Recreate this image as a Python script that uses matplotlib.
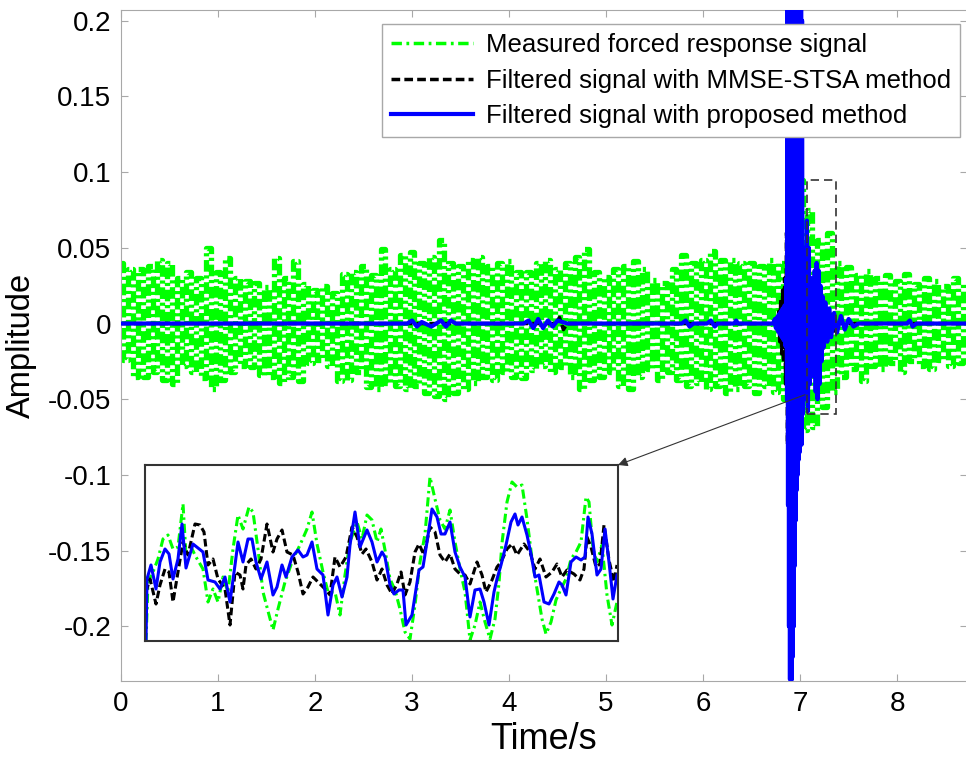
import numpy as np
import matplotlib
matplotlib.use('Agg')
import matplotlib.pyplot as plt
from matplotlib.patches import Rectangle

plt.rcParams['font.family'] = ['Liberation Sans', 'DejaVu Sans']

green_upper = [0.040, 0.036, 0.036, 0.038, 0.042, 0.040, 0.030, 0.034, 0.030, 0.050,
               0.034, 0.043, 0.030, 0.028, 0.027, 0.024, 0.043, 0.030, 0.041, 0.026,
               0.022, 0.025, 0.020, 0.033, 0.034, 0.038, 0.032, 0.049, 0.036, 0.045,
               0.047, 0.040, 0.044, 0.055, 0.040, 0.038, 0.042, 0.044, 0.038, 0.040,
               0.041, 0.034, 0.034, 0.040, 0.042, 0.036, 0.040, 0.044, 0.049, 0.034,
               0.031, 0.036, 0.038, 0.041, 0.036, 0.029, 0.027, 0.036, 0.045, 0.040,
               0.042, 0.048, 0.042, 0.042, 0.040, 0.040, 0.038, 0.042, 0.040, 0.060,
               0.095, 0.075, 0.055, 0.060, 0.040, 0.037, 0.032, 0.035, 0.030, 0.032,
               0.028, 0.033, 0.026, 0.030, 0.028, 0.025, 0.030, 0.027]
green_lower = [-0.024, -0.035, -0.035, -0.032, -0.037, -0.040, -0.028, -0.032, -0.036, -0.043,
               -0.037, -0.032, -0.028, -0.029, -0.034, -0.035, -0.039, -0.035, -0.038, -0.026,
               -0.024, -0.028, -0.038, -0.037, -0.032, -0.042, -0.043, -0.039, -0.041, -0.043,
               -0.041, -0.046, -0.048, -0.050, -0.046, -0.043, -0.039, -0.035, -0.037, -0.032,
               -0.035, -0.036, -0.031, -0.028, -0.032, -0.029, -0.035, -0.043, -0.037, -0.035,
               -0.032, -0.041, -0.043, -0.035, -0.030, -0.037, -0.032, -0.037, -0.041, -0.039,
               -0.043, -0.041, -0.046, -0.043, -0.041, -0.046, -0.041, -0.045, -0.050, -0.060,
               -0.070, -0.068, -0.055, -0.045, -0.035, -0.030, -0.038, -0.028, -0.030, -0.026,
               -0.032, -0.025, -0.028, -0.030, -0.024, -0.028, -0.026]

# 本文方法滤波结果 (蓝)
blue_t = [0.0, 2.95, 3.0, 3.05, 3.1, 3.2, 3.3, 3.35, 3.4, 3.45,
          4.15, 4.2, 4.25, 4.3, 4.35, 4.4, 4.45, 4.5, 4.6,
          5.78, 5.82, 5.86, 5.9, 6.04, 6.08, 6.12, 6.15, 6.32, 6.34, 6.36,
          6.72, 6.74, 6.75, 6.76, 6.77, 6.78, 6.79, 6.80, 6.81, 6.82, 6.83, 6.84, 6.85, 6.86,
          6.865, 6.87, 6.875, 6.88, 6.885, 6.89, 6.895, 6.90, 6.905, 6.91, 6.915, 6.92,
          6.925, 6.93, 6.935, 6.94, 6.945, 6.95, 6.955, 6.96, 6.965, 6.97, 6.975, 6.98,
          6.985, 6.99, 6.995, 7.00, 7.005, 7.01, 7.015, 7.02, 7.025, 7.03, 7.04, 7.05, 7.06,
          7.07, 7.08, 7.09, 7.10, 7.11, 7.12, 7.13, 7.14, 7.15, 7.16, 7.17, 7.18, 7.19,
          7.20, 7.21, 7.22, 7.23, 7.24, 7.26, 7.28, 7.30, 7.32, 7.35, 7.38, 7.42, 7.46,
          7.50, 7.55, 7.60, 8.10, 8.13, 8.16, 8.20, 8.72]
blue_v = [0.0, 0.0, 0.002, -0.002, 0.001, -0.002, 0.002, -0.002, 0.002, 0.0,
          0.0, 0.002, -0.003, 0.003, -0.003, 0.002, -0.002, 0.002, 0.0,
          0.0, 0.002, -0.002, 0.0, 0.0, 0.002, -0.002, 0.0, 0.0, 0.002, 0.0,
          0.0, 0.003, -0.003, 0.004, -0.005, 0.006, -0.007, 0.008, -0.009, 0.010, -0.011, 0.012, -0.015, 0.030,
          -0.050, 0.25, -0.12, 0.25, -0.20, 0.25, -0.235, 0.25, -0.235, 0.25, -0.235, 0.25,
          -0.22, 0.25, -0.20, 0.25, -0.16, 0.25, -0.13, 0.25, -0.11, 0.25, -0.10, 0.25,
          -0.09, 0.25, -0.085, 0.25, -0.08, 0.25, -0.08, 0.20, -0.06, 0.05, -0.04, 0.05, -0.05,
          0.068, -0.058, 0.05, -0.04, 0.03, -0.03, 0.028, -0.035, 0.035, -0.045, 0.04, -0.05, 0.035,
          -0.04, 0.025, -0.025, 0.018, -0.016, 0.014, -0.012, 0.010, -0.009, 0.007, -0.006, 0.005, -0.004,
          0.003, -0.002, 0.0, 0.0, 0.002, -0.002, 0.0, 0.0]

# MMSE-STSA 滤波结果 (黑)
black_t = [0.0, 4.48, 4.52, 4.56, 4.60, 6.77, 6.78, 6.79, 6.80, 6.81, 6.82, 6.83, 6.84,
           6.85, 6.86, 6.87, 6.88, 6.90, 6.92, 6.94, 6.96, 6.98, 6.99, 7.00, 7.02, 7.04,
           7.06, 7.08, 7.10, 7.12, 7.14, 7.16, 7.18, 7.20, 7.22, 7.25, 7.30, 7.35, 7.40, 8.72]
black_v = [0.0, 0.0, 0.004, -0.004, 0.0, 0.0, 0.008, -0.012, 0.016, -0.020, 0.022, -0.026, 0.030,
           -0.040, 0.060, -0.080, 0.100, -0.100, 0.100, -0.090, 0.090, -0.080, 0.088, -0.060, 0.050, -0.040,
           0.040, -0.035, 0.030, -0.030, 0.030, -0.032, 0.032, -0.025, 0.020, -0.012, 0.008, -0.005, 0.0, 0.0]

# 局部放大窗口中的三条曲线 (样本序号, 幅值)
ins_green_n = [1, 3, 8, 13, 18, 23, 28, 33, 38, 41, 46, 51, 58, 63, 68, 73, 78, 83, 88, 93,
               98, 104, 108, 113, 118, 128, 133, 140, 148, 155, 162, 167, 172, 178, 183, 190, 195, 200, 205, 212,
               217, 222, 227, 232, 236, 240, 245, 250, 255, 260, 265, 270, 275, 280, 285, 290, 295, 300, 305, 310,
               315, 320, 325, 330, 335, 340, 345, 350, 354, 357, 362, 367, 372, 377, 382, 387, 392, 397, 401, 406,
               411, 416, 421, 426, 431, 436, 441, 444, 448, 452, 457, 462, 467, 472]
ins_green_v = [-0.089, -0.029, -0.019, -0.006, 0.014, 0.018, 0.004, 0.006, 0.049, -0.002,
               0.006, -0.004, -0.016, -0.049, -0.036, -0.049, -0.024, -0.039, 0.004, 0.038,
               0.024, 0.046, 0.041, 0.004, -0.039, -0.077, -0.056, -0.029, -0.006, 0.008,
               0.024, 0.041, 0.009, -0.019, -0.039, -0.039, -0.062, -0.022, 0.011, 0.031,
               0.014, 0.038, 0.033, 0.011, 0.024, 0.003, -0.026, -0.037, -0.056, -0.079,
               -0.086, -0.052, -0.009, 0.019, 0.076, 0.054, 0.033, 0.024, 0.043, 0.011,
               -0.016, -0.039, -0.087, -0.072, -0.049, -0.069, -0.086, -0.066, -0.030, 0.010,
               0.051, 0.071, 0.066, 0.068, 0.034, -0.006, -0.036, -0.066, -0.081, -0.069,
               -0.047, -0.036, -0.026, -0.006, 0.001, 0.011, 0.056, 0.051, 0.004, -0.009,
               0.008, -0.042, -0.072, -0.049]
ins_black_n = [1, 5, 11, 15, 20, 24, 28, 33, 38, 43, 50, 55, 59, 63, 68, 73, 80, 85, 90, 95,
               98, 101, 106, 111, 116, 122, 128, 132, 137, 142, 148, 153, 158, 163, 168, 173, 180, 185, 190, 195,
               201, 207, 212, 217, 221, 227, 232, 237, 242, 247, 252, 256, 260, 265, 270, 274, 279, 285, 290, 295,
               300, 305, 310, 315, 320, 325, 332, 337, 341, 347, 352, 356, 362, 367, 372, 379, 385, 390, 395, 401,
               407, 412, 417, 422, 429, 435, 439, 442, 446, 451, 455, 459, 464, 469, 472]
ins_black_v = [-0.039, -0.026, -0.051, -0.032, -0.016, -0.019, -0.049, -0.019, 0.011, -0.002,
               0.029, 0.028, 0.021, -0.012, -0.006, -0.026, -0.036, -0.072, -0.019, -0.022,
               -0.036, -0.012, -0.006, -0.016, -0.006, 0.029, 0.001, 0.014, 0.023, 0.001,
               -0.002, -0.019, -0.041, -0.034, -0.024, -0.029, -0.036, -0.042, -0.004, -0.014,
               -0.004, 0.026, 0.016, -0.001, 0.004, -0.009, -0.027, -0.016, -0.032, -0.041,
               -0.031, -0.019, -0.042, -0.029, 0.001, 0.009, -0.002, 0.026, 0.021, -0.002,
               -0.009, -0.001, -0.016, -0.021, -0.022, -0.031, -0.009, -0.022, -0.039, -0.027,
               -0.014, -0.009, 0.004, 0.009, -0.002, 0.009, 0.001, -0.016, -0.006, -0.024,
               -0.019, -0.011, -0.024, -0.017, -0.021, -0.027, -0.016, 0.016, 0.006, -0.014,
               -0.011, 0.028, -0.007, -0.029, -0.012]
ins_blue_n = [1, 2, 6, 11, 15, 20, 24, 28, 33, 37, 41, 48, 58, 63, 70, 75, 80, 85, 90, 93,
              98, 103, 107, 111, 116, 122, 128, 132, 137, 141, 147, 153, 158, 162, 167, 172, 178, 183, 188, 192,
              197, 202, 205, 210, 215, 222, 227, 232, 237, 240, 245, 249, 254, 258, 261, 267, 274, 278, 282, 287,
              292, 296, 300, 305, 310, 315, 320, 325, 330, 335, 339, 344, 349, 352, 356, 361, 366, 370, 373, 377,
              382, 386, 390, 394, 399, 404, 409, 414, 417, 421, 426, 431, 436, 440, 443, 447, 452, 456, 460, 464,
              468, 472]
ins_blue_v = [-0.089, -0.026, -0.012, -0.036, -0.009, 0.004, -0.001, -0.026, -0.006, 0.029,
              -0.015, 0.009, 0.001, -0.027, -0.029, -0.036, -0.024, -0.049, -0.012, 0.011,
              -0.009, 0.014, 0.014, -0.009, -0.026, -0.009, -0.042, -0.034, -0.012, -0.024,
              -0.004, 0.003, -0.004, -0.002, 0.011, -0.016, -0.022, -0.062, -0.032, -0.024,
              -0.044, -0.024, 0.008, 0.041, 0.006, 0.023, 0.011, -0.009, 0.001, -0.004,
              -0.032, -0.041, -0.037, -0.037, -0.072, -0.062, -0.017, -0.014, 0.011, 0.044,
              0.036, 0.019, 0.019, 0.031, 0.001, -0.014, -0.024, -0.064, -0.037, -0.036,
              -0.049, -0.072, -0.039, -0.026, -0.012, 0.008, 0.031, 0.039, 0.028, 0.036,
              0.018, -0.001, -0.024, -0.022, -0.049, -0.051, -0.041, -0.029, -0.032, -0.042,
              -0.009, -0.004, -0.007, -0.004, 0.036, 0.019, -0.022, -0.016, 0.024, -0.009,
              -0.046, -0.022]

labels = ['Measured forced response signal',
          'Filtered signal with MMSE-STSA method',
          'Filtered signal with proposed method']
yticks = [-0.2, -0.15, -0.1, -0.05, 0, 0.05, 0.1, 0.15, 0.2]
ytick_labels = ['-0.2', '-0.15', '-0.1', '-0.05', '0', '0.05', '0.1', '0.15', '0.2']
xticks = [0, 1, 2, 3, 4, 5, 6, 7, 8]

# 上下峰值交错组成绿色曲线
t_up = np.arange(len(green_upper)) * 0.1
t_lo = t_up[:-1] + 0.05
green_t = np.empty(len(t_up) + len(t_lo))
green_v = np.empty_like(green_t)
green_t[0::2], green_t[1::2] = t_up, t_lo
green_v[0::2], green_v[1::2] = green_upper, green_lower

W, H = 966, 758
fig = plt.figure(figsize=(W / 100, H / 100), dpi=100)
ax = fig.add_axes([121 / W, 77 / H, 846 / W, 671 / H])

gray = '#a8a8a8'
green_dash = (2.2, 0.7, 0.6, 0.7)
ax.plot(green_t, green_v, color='#00ff00', lw=3.8, dashes=green_dash,
        drawstyle='steps-mid', label=labels[0], zorder=1)
ax.plot(black_t, black_v, color='k', lw=2.5, linestyle=(0, (2.5, 1.2)), label=labels[1], zorder=2)
ax.plot(blue_t, blue_v, color='#0000ff', lw=3, label=labels[2], zorder=3)

ax.set_xlim(0, 8.72)
ax.set_ylim(-0.236, 0.207)
ax.set_xticks(xticks)
ax.set_yticks(yticks)
ax.set_yticklabels(ytick_labels)
ax.tick_params(direction='in', length=5, color=gray, labelsize=20, top=True, right=True,
               pad=7)
for s in ax.spines.values():
    s.set_color(gray)
ax.set_xlabel('Time/s', fontsize=26, labelpad=4)
ax.set_ylabel('Amplitude', fontsize=23.5, labelpad=8)

leg = ax.legend(loc='upper right', bbox_to_anchor=(0.992, 0.979), borderaxespad=0,
                fontsize=18.5, handlelength=3.2, handletextpad=0.5, labelspacing=0.45,
                borderpad=0.35, fancybox=False, framealpha=1, edgecolor=gray)
leg.get_frame().set_linewidth(1)
leg.get_lines()[0].set_linewidth(2.5)
leg.get_lines()[0].set_dashes((3, 1.3, 0.8, 1.3))

# 局部放大框
ax.add_patch(Rectangle((7.07, -0.06), 0.30, 0.155, fill=False, ec='#333333',
                       lw=1.2, ls=(0, (5, 3)), zorder=5))

# 放大图
ins = fig.add_axes([145 / W, 117 / H, 473 / W, 176 / H])
ins.plot(ins_green_n, ins_green_v, color='#00ff00', lw=2.2, dashes=(3, 1.3, 0.8, 1.3))
ins.plot(ins_black_n, ins_black_v, color='k', lw=2.2, linestyle=(0, (2.5, 1.2)))
ins.plot(ins_blue_n, ins_blue_v, color='#0000ff', lw=2.2)
ins.set_xlim(0, 473)
ins.set_ylim(-0.088, 0.088)
ins.set_xticks([])
ins.set_yticks([])
for s in ins.spines.values():
    s.set_color('#333333')
    s.set_linewidth(1.5)

ins.annotate('', xy=(1, 1), xycoords='axes fraction', xytext=(7.05, -0.047),
             textcoords=ax.transData, annotation_clip=False,
             arrowprops=dict(arrowstyle='-|>', color='#333333', lw=0.8,
                             shrinkA=0, shrinkB=0, mutation_scale=14))

fig.savefig('out.png', dpi=100)
